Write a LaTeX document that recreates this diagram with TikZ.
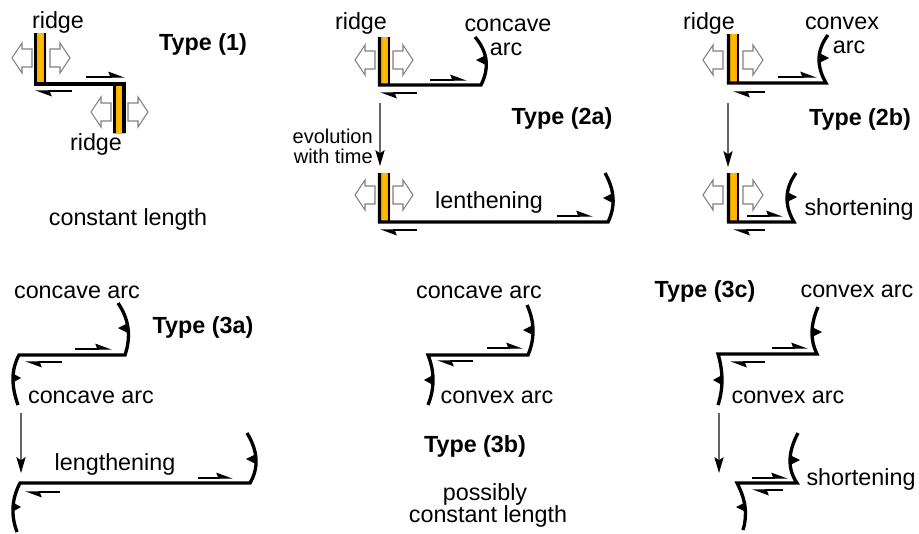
\documentclass[tikz,border=0pt]{standalone}
\usepackage{fontspec}
\setmainfont{Liberation Sans}
\usetikzlibrary{arrows.meta}
\definecolor{ridgeO}{RGB}{255,150,0}
\definecolor{ridgeY}{RGB}{255,192,0}
\definecolor{spreadgray}{RGB}{128,128,128}
\definecolor{evolgray}{RGB}{100,100,100}
\tikzset{
  fault/.style={line width=2.5pt, line join=miter, line cap=butt},
  redge/.style={line width=2pt},
  ridgefill/.style={left color=ridgeO,right color=ridgeO,middle color=ridgeY},
  harp/.style={line width=1.1pt,-{Stealth[harpoon,length=11pt,width=8pt,inset=1.5pt]}},
  evol/.style={draw=evolgray,line width=0.8pt,-{Stealth[color=black,length=12pt,width=7pt,inset=2.5pt]}},
  spreadsty/.style={draw=spreadgray,fill=white,line width=0.8pt,line join=miter},
  lbl/.style={font=\fontsize{17.5}{21}\selectfont, inner sep=0pt, anchor=base},
  tlbl/.style={font=\fontsize{17.5}{21}\selectfont\bfseries, inner sep=0pt, anchor=base},
  slbl/.style={font=\fontsize{15}{18}\selectfont, inner sep=0pt, anchor=base east},
  spreadR/.pic={\draw[spreadsty] (0,-9) -- (10,-9) -- (10,-15) -- (20,0) -- (10,15) -- (10,9) -- (0,9) -- cycle;}
}
\begin{document}
\begin{tikzpicture}[x=0.75pt,y=-0.75pt]
\useasboundingbox (0,0) rectangle (919,533);

% ---------------- Type (1)
\path[ridgefill] (34,33) rectangle (46,84);
\path[ridgefill] (113,84) rectangle (125,133);
\draw[redge] (45,33) -- (45,84);
\draw[redge] (114.5,84) -- (114.5,133);
\draw[fault] (35.5,33) -- (35.5,84) -- (124,84) -- (124,133);
\pic[xscale=-1] at (32,58) {spreadR};
\pic at (50,58) {spreadR};
\pic[xscale=-1] at (111,112) {spreadR};
\pic at (128,112) {spreadR};
\draw[harp] (86,77) -- (125,77);
\draw[harp] (72,91) -- (35,91);
\node[lbl] (r1a) at (58,28) {ridge};
\node[tlbl] (t1) at (203,50) {Type (1)};
\node[lbl] (r1b) at (96,150) {ridge};
\node[lbl] (cl1) at (128,225) {constant length};

% ---------------- Type (2a)
\path[ridgefill] (378,37) rectangle (390,85);
\draw[redge] (389,37) -- (389,85);
\draw[fault] (379.5,37) -- (379.5,85) -- (481,85) .. controls (489.7,67.7) and (487.7,51.7) .. (475,37);
\fill (486,55) -- (476,60) -- (486,65) -- cycle;
\pic[xscale=-1] at (375,60) {spreadR};
\pic at (393,60) {spreadR};
\draw[harp] (430,80) -- (467,80);
\draw[harp] (417,93) -- (380,93);
\node[lbl] (r2a) at (361,29) {ridge};
\node[lbl] (cc2a) at (508,31) {concave};
\node[lbl] (ar2a) at (506,55) {arc};
\coordinate (e2as) at (380,103);
\coordinate (e2ae) at (380,166);
\draw[evol] (e2as) -- (e2ae);
\node[slbl] (ev1) at (373,143) {evolution};
\node[slbl] (ev2) at (373,163) {with time};
\node[tlbl] (t2a) at (562,124) {Type (2a)};
\path[ridgefill] (378,173) rectangle (390,222);
\draw[redge] (389,173) -- (389,222);
\draw[fault] (379.5,173) -- (379.5,222) -- (608,222) .. controls (615.7,206.3) and (614.7,190) .. (605,173);
\fill (613,193) -- (603,198) -- (613,203) -- cycle;
\pic[xscale=-1] at (375,195) {spreadR};
\pic at (393,195) {spreadR};
\draw[harp] (557,216) -- (593,216);
\draw[harp] (417,230) -- (380,230);
\node[lbl] (len2a) at (489,208) {lenthening};

% ---------------- Type (2b)
\path[ridgefill] (727,34) rectangle (739,83);
\draw[redge] (738,34) -- (738,83);
\draw[fault] (728.5,34) -- (728.5,83) -- (826,83) .. controls (816,65.7) and (816.7,49.7) .. (828,35);
\fill (819,53) -- (829,58) -- (819,63) -- cycle;
\pic[xscale=-1] at (723,60) {spreadR};
\pic at (743,60) {spreadR};
\draw[harp] (778,77) -- (817,77);
\draw[harp] (765,92) -- (733,92);
\node[lbl] (r2b) at (709,29) {ridge};
\node[lbl] (cv2b) at (842,29) {convex};
\node[lbl] (ar2b) at (849,53) {arc};
\coordinate (e2bs) at (728,103);
\coordinate (e2be) at (728,167);
\draw[evol] (e2bs) -- (e2be);
\node[tlbl] (t2b) at (860,125) {Type (2b)};
\path[ridgefill] (727,173) rectangle (739,222);
\draw[redge] (738,173) -- (738,222);
\draw[fault] (728.5,173) -- (728.5,222) -- (794,222) .. controls (784,205) and (784.7,188.7) .. (796,173);
\fill (787,192) -- (797,197) -- (787,202) -- cycle;
\pic[xscale=-1] at (723,195) {spreadR};
\pic at (743,195) {spreadR};
\draw[harp] (747,216) -- (783,216);
\draw[harp] (765,230) -- (733,230);
\node[lbl] (sh2b) at (859,215) {shortening};

% ---------------- Type (3a)
\draw[fault] (118,303) .. controls (129,319) and (131.3,336.3) .. (125,355) -- (19,355) .. controls (11.3,369) and (11,385.7) .. (18,405);
\fill (128,323) -- (118,328) -- (128,333) -- cycle;
\fill (12,373) -- (21,378) -- (12,383) -- cycle;
\draw[harp] (75,349) -- (112,349);
\draw[harp] (62,362) -- (25,362);
\node[lbl] (cc3a) at (77,298) {concave arc};
\node[tlbl] (t3a) at (203,333) {Type (3a)};
\node[lbl] (cc3b) at (91,403) {concave arc};
\coordinate (e3as) at (21,413);
\coordinate (e3ae) at (21,473);
\draw[evol] (e3as) -- (e3ae);
\draw[fault] (247,433) .. controls (258,451) and (259,467.7) .. (250,483) -- (20,483) .. controls (11.7,498.7) and (10.7,515) .. (17,532);
\fill (256,454) -- (246,459) -- (256,464) -- cycle;
\fill (12,502) -- (21,507) -- (12,512) -- cycle;
\draw[harp] (198,478) -- (233,478);
\draw[harp] (60,492) -- (25,492);
\node[lbl] (len3a) at (115,470) {lengthening};

% ---------------- Type (3b)
\draw[fault] (527,305) .. controls (534.7,321.7) and (535,338.3) .. (528,355) -- (428,355) .. controls (434.7,371.7) and (434.7,388.3) .. (428,405);
\fill (533,325) -- (523,330) -- (533,335) -- cycle;
\fill (433,375) -- (424,380) -- (433,385) -- cycle;
\draw[harp] (487,348) -- (523,348);
\draw[harp] (473,361) -- (437,361);
\node[lbl] (cc3bb) at (479,298) {concave arc};
\node[lbl] (cv3b) at (497,403) {convex arc};
\node[tlbl] (t3b) at (475,452) {Type (3b)};
\node[lbl] (pos3b) at (485,500) {possibly};
\node[lbl] (cl3b) at (488,522) {constant length};

% ---------------- Type (3c)
\draw[fault] (818,307) .. controls (810.3,324.7) and (810,340.3) .. (817,354) -- (718,354) .. controls (723.3,371.7) and (723.3,388.7) .. (718,405);
\fill (812,327) -- (822,332) -- (812,337) -- cycle;
\fill (722,375) -- (713,380) -- (722,385) -- cycle;
\draw[harp] (772,348) -- (808,348);
\draw[harp] (765,362) -- (730,362);
\node[tlbl] (t3c) at (705,297) {Type (3c)};
\node[lbl] (cv3ca) at (857,297) {convex arc};
\node[lbl] (cv3cb) at (788,403) {convex arc};
\coordinate (e3cs) at (719,413);
\coordinate (e3ce) at (719,473);
\draw[evol] (e3cs) -- (e3ce);
\draw[fault] (798,433) .. controls (787.7,452.3) and (787.3,469) .. (797,483) -- (737,483) .. controls (745.7,499.3) and (747.7,515) .. (743,530);
\fill (790,455) -- (800,460) -- (790,465) -- cycle;
\fill (746,502) -- (736,507) -- (746,512) -- cycle;
\draw[harp] (752,478) -- (788,478);
\draw[harp] (783,490) -- (752,490);
\node[lbl] (sh3c) at (861,485) {shortening};
\end{tikzpicture}
\end{document}
